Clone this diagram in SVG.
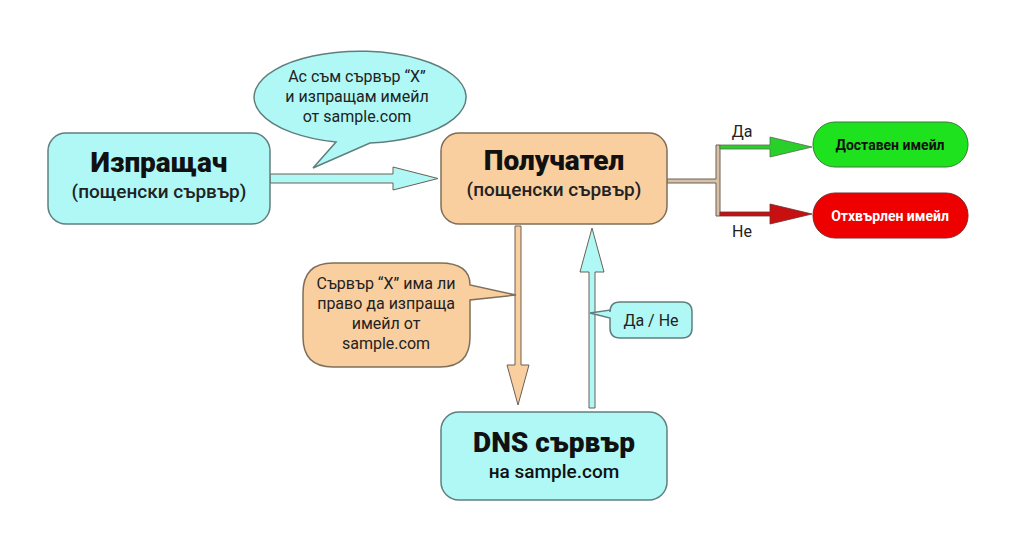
<svg xmlns="http://www.w3.org/2000/svg" width="1024" height="546" viewBox="0 0 1024 546">
<style>
text{font-family:Roboto,"Liberation Sans",sans-serif;text-anchor:middle;fill:#111}
.t{font-weight:900;font-size:28px}
.s{font-weight:500;font-size:19px;fill:#222}
.c{font-size:16px;fill:#222}
.cy{fill:#b0f8f6;stroke:#5f7f7d;stroke-width:1.5}
.or{fill:#f9cfa0;stroke:#7f6f5a;stroke-width:1.5}
.ln{stroke:#6a6055;stroke-width:1}
</style>
<rect width="1024" height="546" fill="#fff"/>
<g id="connectors">
<polygon class="cy ln" points="270,174 393,174 393,167 438,178.5 393,190 393,183 270,183"/>
<polygon class="or ln" points="515,226 521,226 521,365 529,365 518,405 507,365 515,365"/>
<polygon class="cy ln" points="589,408 595,408 595,272 604,272 592,228 580,272 589,272"/>
<polygon fill="#d8c0a8" stroke="#6a6055" points="667,179 716,179 716,145 720,145 720,216 716,216 716,183 667,183"/>
<polygon fill="#2ad02a" stroke="#5a6a50" stroke-width="0.8" points="720,145 770,145 770,137 812,147 770,157 770,149 720,149"/>
<polygon fill="#c81010" stroke="#6a3030" stroke-width="0.8" points="720,212 770,212 770,204 812,214 770,224 770,216 720,216"/>
<text x="742" y="137" class="c">Да</text>
<text x="742" y="237" class="c">Не</text>
</g>
<g id="bubble1">
<path class="cy" d="M336,142 A106,46 0 1 1 370,143 L313,168 Z"/>
<text x="357" y="82" class="c">Ас съм сървър “X”</text>
<text x="357" y="102" class="c">и изпращам имейл</text>
<text x="357" y="122" class="c">от sample.com</text>
</g>
<g id="bubble2">
<path class="or" d="M333,263 H440 Q470,263 470,285 L516,295 L470,300 V337 Q470,367 440,367 H333 Q303,367 303,337 V293 Q303,263 333,263 Z"/>
<text x="386" y="289" class="c">Сървър “X” има ли</text>
<text x="386" y="309" class="c">право да изпраща</text>
<text x="386" y="329" class="c">имейл от</text>
<text x="386" y="349" class="c">sample.com</text>
</g>
<g id="bubble3">
<path class="cy" d="M620,302 H682 Q692,302 692,312 V328 Q692,338 682,338 H620 Q610,338 610,328 V318 L590,313 L610,310 V312 Q610,302 620,302 Z"/>
<text x="651" y="326" class="c">Да / Не</text>
</g>
<g id="sender">
<rect x="48" y="133" width="222" height="91" rx="18" class="cy"/>
<text x="159" y="172" class="t">Изпращач</text>
<text x="159" y="198" class="s">(пощенски сървър)</text>
</g>
<g id="receiver">
<rect x="441" y="133" width="226" height="91" rx="18" class="or"/>
<text x="554" y="170" class="t">Получател</text>
<text x="554" y="196" class="s">(пощенски сървър)</text>
</g>
<g id="dns">
<rect x="441" y="412" width="226" height="88" rx="18" class="cy"/>
<text x="554" y="452" class="t">DNS сървър</text>
<text x="554" y="478" style="font-size:19px;font-weight:500">на sample.com</text>
</g>
<g id="delivered">
<rect x="813" y="122" width="155" height="45" rx="22" fill="#1fe21f" stroke="#3a7a3a"/>
<text x="890" y="150" style="font-size:14px;font-weight:bold">Доставен имейл</text>
</g>
<g id="rejected">
<rect x="813" y="193" width="155" height="45" rx="22" fill="#ee0000" stroke="#7a2a2a"/>
<text x="890" y="221" style="font-size:14px;font-weight:bold;fill:#fff">Отхвърлен имейл</text>
</g>
</svg>
